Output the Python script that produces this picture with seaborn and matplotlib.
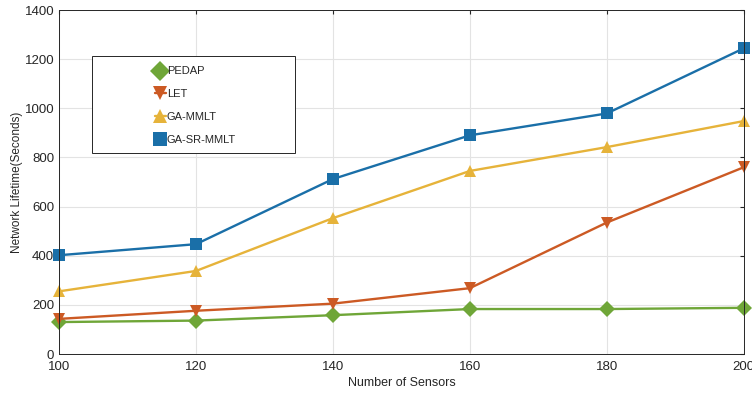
import pandas as pd
import matplotlib
matplotlib.use("Agg")
import matplotlib.pyplot as plt
import seaborn as sns
from matplotlib.patches import Rectangle

sensors = [100, 120, 140, 160, 180, 200]
pedap = [130, 136, 158, 183, 183, 188]
let = [143, 176, 205, 268, 535, 760]
ga_mmlt = [255, 338, 553, 745, 842, 948]
ga_sr_mmlt = [402, 447, 712, 890, 979, 1244]

methods = ["PEDAP", "LET", "GA-MMLT", "GA-SR-MMLT"]
colors = ["#6fa638", "#cc5a24", "#e6b33a", "#1a6fa8"]
markers = ["D", "v", "^", "s"]

rows = []
for name, vals in zip(methods, [pedap, let, ga_mmlt, ga_sr_mmlt]):
    for x, y in zip(sensors, vals):
        rows.append({"sensors": x, "lifetime": y, "method": name})
df = pd.DataFrame(rows)

sns.set_style("white")
plt.rcParams['font.family'] = ['Liberation Sans', 'DejaVu Sans']

fig = plt.figure(figsize=(7.52, 3.94), dpi=100)
ax = fig.add_axes([0.0785, 0.1015, 0.9105, 0.8731])

sns.lineplot(data=df, x="sensors", y="lifetime", hue="method", style="method",
             hue_order=methods, style_order=methods,
             palette=colors, markers=markers, dashes=False,
             markersize=8, markeredgewidth=0, linewidth=1.7, ax=ax)
for ln in ax.get_lines():
    ln.set_clip_on(False)

ax.set_xlim(100, 200)
ax.set_ylim(0, 1400)
ax.set_xticks(range(100, 201, 20))
ax.set_yticks(range(0, 1401, 200))
ax.grid(True, color="#e3e3e3", linewidth=0.8)
ax.tick_params(direction="in", length=3, labelsize=9.5, colors="#262626",
               top=True, right=True, labeltop=False, labelright=False)
ax.tick_params(axis="x", pad=5)
for s in ax.spines.values():
    s.set_color("#262626")
    s.set_linewidth(0.7)
ax.set_xlabel("Number of Sensors", fontsize=9, color="#262626", labelpad=3)
ax.set_ylabel("Network Lifetime(Seconds)", fontsize=8.5, color="#262626", labelpad=1)

# legend box
box = Rectangle((0.048, 0.584), 0.296, 0.282, transform=ax.transAxes,
                facecolor="white", edgecolor="#262626", linewidth=0.7, zorder=4)
ax.add_patch(box)
ax.legend(loc="upper left", bbox_to_anchor=(0.125, 0.865), frameon=False,
          fontsize=8, handlelength=1.0, handletextpad=0.1, labelspacing=1.15,
          markerscale=1.3)
ax.get_legend().set_zorder(5)

fig.savefig("out.png", dpi=100)
